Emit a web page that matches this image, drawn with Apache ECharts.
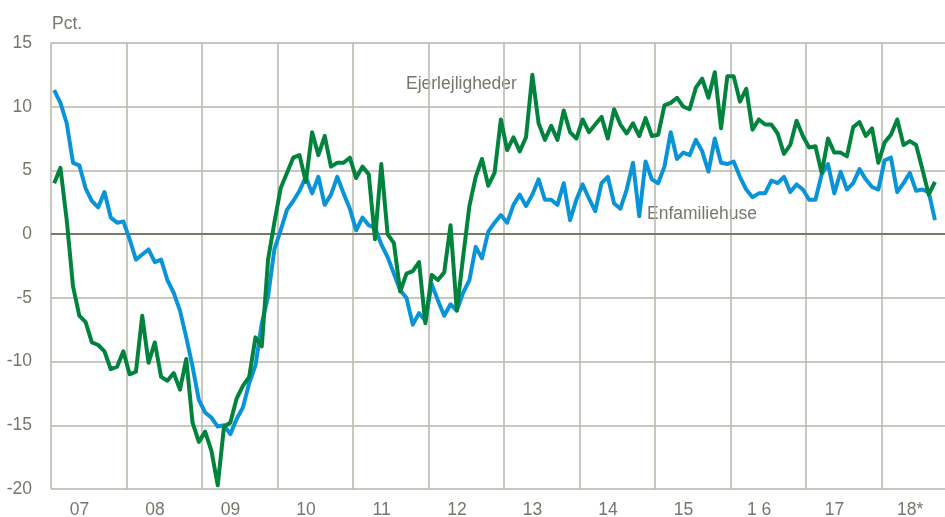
<!DOCTYPE html>
<html>
<head>
<meta charset="utf-8">
<script src="https://cdn.jsdelivr.net/npm/echarts@6/dist/echarts.min.js"></script>
<style>
html,body{margin:0;padding:0;background:#fff;}
#c{width:945px;height:517px;}
</style>
</head>
<body>
<div id="c"></div>
<script>
// Monthly, Jan 2007 – Sep 2018 (axis runs to Dec 2018)
const years = ['07','08','09','10','11','12','13','14','15','1 6','17','18*'];
const enfamiliehuse = [
 11.3,10.3,8.7,5.6,5.4,3.6,2.6,2.1,3.3,1.3,0.9,1.0,
 -0.4,-2.0,-1.6,-1.2,-2.2,-2.0,-3.6,-4.6,-6.0,-8.1,-10.4,-13.0,
 -14.0,-14.4,-15.1,-15.0,-15.7,-14.5,-13.6,-11.7,-10.3,-7.0,-4.9,-1.2,
 0.3,1.9,2.6,3.4,4.5,3.2,4.5,2.3,3.1,4.5,3.2,2.0,
 0.3,1.3,0.7,0.5,-0.8,-1.8,-3.1,-4.4,-5.0,-7.1,-6.2,-6.8,
 -3.9,-5.2,-6.4,-5.5,-6.0,-4.6,-3.6,-1.0,-1.9,0.2,0.9,1.5,
 0.9,2.3,3.1,2.2,3.1,4.3,2.7,2.7,2.3,4.0,1.1,2.7,
 3.9,2.8,1.8,4.0,4.5,2.4,2.0,3.5,5.6,1.4,5.7,4.3,
 4.0,5.3,8.0,5.9,6.4,6.2,7.4,6.5,4.9,7.5,5.6,5.5,
 5.7,4.5,3.5,2.9,3.2,3.2,4.2,4.0,4.5,3.3,3.9,3.5,
 2.7,2.7,4.7,5.5,3.2,4.9,3.5,4.0,5.1,4.3,3.7,3.5,
 5.8,6.0,3.3,4.0,4.8,3.4,3.5,3.3,1.1
];
const ejerlejligheder = [
 4.0,5.2,1.1,-4.1,-6.4,-6.9,-8.5,-8.7,-9.2,-10.6,-10.4,-9.2,
 -11.0,-10.8,-6.4,-10.1,-8.5,-11.2,-11.5,-10.9,-12.2,-9.8,-14.8,-16.3,
 -15.5,-17.0,-19.7,-15.1,-14.8,-12.9,-11.9,-11.2,-8.1,-8.8,-2.0,0.9,
 3.6,4.8,6.0,6.2,4.1,8.0,6.2,7.7,5.3,5.6,5.6,6.0,
 4.4,5.3,4.7,-0.4,5.5,0.0,-0.7,-4.5,-3.1,-2.9,-2.2,-7.0,
 -3.2,-3.6,-3.0,0.7,-6.0,-1.8,2.2,4.5,5.9,3.8,4.8,9.0,
 6.6,7.6,6.5,7.6,12.5,8.7,7.4,8.5,7.4,9.7,8.0,7.5,
 9.0,8.0,8.6,9.2,7.5,9.8,8.6,7.9,8.7,7.7,9.1,7.7,
 7.8,10.1,10.3,10.7,10.0,9.8,11.5,12.2,10.7,12.7,8.3,12.4,
 12.4,10.4,11.4,8.2,9.0,8.6,8.6,7.9,6.3,7.0,8.9,7.7,
 6.8,6.9,4.8,7.5,6.4,6.4,6.1,8.4,8.8,7.7,8.3,5.6,
 7.2,7.8,9.0,7.0,7.3,7.0,5.1,3.1,4.1
];
const months = [];
for (let y = 2007; y <= 2018; y++) for (let m = 1; m <= 12; m++) months.push(y + '-' + (m < 10 ? '0' : '') + m);

const txt = '#77766a';
const font = "'Liberation Sans', Arial, sans-serif";
const chart = echarts.init(document.getElementById('c'), null, {renderer: 'canvas'});
chart.setOption({
  animation: false,
  backgroundColor: '#fff',
  grid: {left: 51, top: 43, width: 906, height: 446, containLabel: false, outerBoundsMode: 'none'},
  xAxis: {
    type: 'category',
    data: months,
    boundaryGap: true,
    axisLine: {show: false},
    axisTick: {show: false},
    axisLabel: {
      interval: (i) => i % 12 === 5,
      formatter: (v, i) => years[Math.floor(i / 12)],
      color: txt, fontSize: 17.5, fontFamily: font, margin: 12, padding: [0, 12, 0, 0]
    },
    splitLine: {show: true, interval: (i) => i % 12 === 0, lineStyle: {color: '#b9b6a9', width: 1.5}}
  },
  yAxis: {
    type: 'value', min: -20, max: 15, interval: 5,
    axisLine: {show: false}, axisTick: {show: false},
    axisLabel: {color: txt, fontSize: 17.5, fontFamily: font, margin: 19},
    splitLine: {lineStyle: {color: '#b9b6a9', width: 1.5}}
  },
  series: [
    {
      name: 'Enfamiliehuse', type: 'line', data: enfamiliehuse, showSymbol: false,
      lineStyle: {color: '#0a94d8', width: 4, join: 'round'}, itemStyle: {color: '#0a94d8'}, z: 2,
      markLine: {silent: true, symbol: 'none', z: 1, label: {show: false},
        lineStyle: {color: '#7a7766', width: 2, type: 'solid'}, data: [{yAxis: 0}]}
    },
    {
      name: 'Ejerlejligheder', type: 'line', data: ejerlejligheder, showSymbol: false,
      lineStyle: {color: '#00843d', width: 4, join: 'round'}, itemStyle: {color: '#00843d'}, z: 3
    }
  ],
  graphic: [
    {type: 'text', left: 52, top: 15, style: {text: 'Pct.', fill: txt, font: '17.5px ' + font}},
    {type: 'text', left: 406, top: 75, style: {text: 'Ejerlejligheder', fill: txt, font: '17.5px ' + font}},
    {type: 'text', left: 647, top: 205, style: {text: 'Enfamiliehuse', fill: txt, font: '17.5px ' + font}}
  ]
});
</script>
</body>
</html>
